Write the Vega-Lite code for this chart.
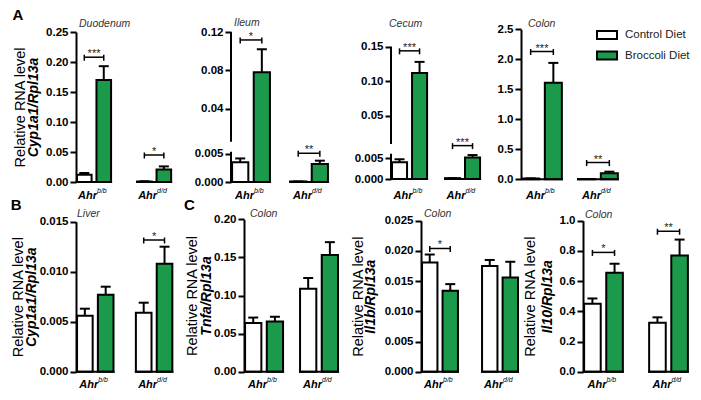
{
"$schema": "https://vega.github.io/schema/vega-lite/v6.json",
"background": "white",
"padding": {"left": 10, "top": 8, "right": 0, "bottom": 0},
"datasets": {
"bars": [
{"p":"duo","g":"b/b","d":"Control Diet","m":0.012,"e":0.015,"s":0.208,"t":"***"},
{"p":"duo","g":"b/b","d":"Broccoli Diet","m":0.17,"e":0.193,"s":0.208,"t":"***"},
{"p":"duo","g":"d/d","d":"Control Diet","m":0.0008,"e":0.0012,"s":0.045,"t":"*"},
{"p":"duo","g":"d/d","d":"Broccoli Diet","m":0.021,"e":0.026,"s":0.045,"t":"*"},
{"p":"ile","g":"b/b","d":"Control Diet","m":0.0035,"e":0.0042,"s":0.1117,"t":"*"},
{"p":"ile","g":"b/b","d":"Broccoli Diet","m":0.078,"e":0.102,"s":0.1117,"t":"*"},
{"p":"ile","g":"d/d","d":"Control Diet","m":0.0001,"e":0.0001,"s":0.00512,"t":"**"},
{"p":"ile","g":"d/d","d":"Broccoli Diet","m":0.0032,"e":0.0038,"s":0.00512,"t":"**"},
{"p":"cec","g":"b/b","d":"Control Diet","m":0.004,"e":0.0047,"s":0.144,"t":"***"},
{"p":"cec","g":"b/b","d":"Broccoli Diet","m":0.112,"e":0.128,"s":0.144,"t":"***"},
{"p":"cec","g":"d/d","d":"Control Diet","m":0.0002,"e":0.0002,"s":0.0085,"t":"***"},
{"p":"cec","g":"d/d","d":"Broccoli Diet","m":0.0051,"e":0.0057,"s":0.0085,"t":"***"},
{"p":"col","g":"b/b","d":"Control Diet","m":0.012,"e":0.015,"s":2.13,"t":"***"},
{"p":"col","g":"b/b","d":"Broccoli Diet","m":1.61,"e":1.94,"s":2.13,"t":"***"},
{"p":"col","g":"d/d","d":"Control Diet","m":0.005,"e":0.005,"s":0.28,"t":"**"},
{"p":"col","g":"d/d","d":"Broccoli Diet","m":0.1,"e":0.127,"s":0.28,"t":"**"},
{"p":"liv","g":"b/b","d":"Control Diet","m":0.0056,"e":0.0063,"s":null,"t":null},
{"p":"liv","g":"b/b","d":"Broccoli Diet","m":0.0077,"e":0.0085,"s":null,"t":null},
{"p":"liv","g":"d/d","d":"Control Diet","m":0.0059,"e":0.0069,"s":0.01317,"t":"*"},
{"p":"liv","g":"d/d","d":"Broccoli Diet","m":0.0108,"e":0.0125,"s":0.01317,"t":"*"},
{"p":"tnf","g":"b/b","d":"Control Diet","m":0.064,"e":0.071,"s":null,"t":null},
{"p":"tnf","g":"b/b","d":"Broccoli Diet","m":0.066,"e":0.072,"s":null,"t":null},
{"p":"tnf","g":"d/d","d":"Control Diet","m":0.109,"e":0.123,"s":null,"t":null},
{"p":"tnf","g":"d/d","d":"Broccoli Diet","m":0.153,"e":0.17,"s":null,"t":null},
{"p":"il1","g":"b/b","d":"Control Diet","m":0.0181,"e":0.0194,"s":0.0204,"t":"*"},
{"p":"il1","g":"b/b","d":"Broccoli Diet","m":0.0134,"e":0.0145,"s":0.0204,"t":"*"},
{"p":"il1","g":"d/d","d":"Control Diet","m":0.0175,"e":0.0185,"s":null,"t":null},
{"p":"il1","g":"d/d","d":"Broccoli Diet","m":0.0156,"e":0.0182,"s":null,"t":null},
{"p":"i10","g":"b/b","d":"Control Diet","m":0.45,"e":0.485,"s":0.79,"t":"*"},
{"p":"i10","g":"b/b","d":"Broccoli Diet","m":0.655,"e":0.715,"s":0.79,"t":"*"},
{"p":"i10","g":"d/d","d":"Control Diet","m":0.325,"e":0.36,"s":0.93,"t":"**"},
{"p":"i10","g":"d/d","d":"Broccoli Diet","m":0.77,"e":0.875,"s":0.93,"t":"**"}
]
},
"spacing": -2,
"resolve": {"scale": {"fill": "independent", "xOffset": "independent"}, "legend": {"fill": "independent"}},
"vconcat": [
{
"bounds": "flush",
"spacing": 0,
"resolve": {"scale": {"fill": "independent", "xOffset": "independent"}, "legend": {"fill": "independent"}},
"hconcat": [
{
"width": 155, "height": 150,
"title": {"text": "A", "offset": -4},
"data": {"name": "bars"},
"transform": [{"filter": "datum.p === 'duo'"}],
"layer": [
{"mark": {"type": "bar", "stroke": "black", "strokeWidth": 2},
 "encoding": {
  "x": {"field": "g", "type": "nominal", "scale": {"paddingInner": 0.4, "paddingOuter": 0.49, "align": 0}, "axis": {"labelExpr": "'Ahr'", "labelAlign": "right", "labelOffset": 3, "labelFontSize": 11, "labelFontStyle": "italic", "labelFontWeight": "bold", "labelPadding": 7, "title": null, "domain": false, "ticks": false, "labelAngle": 0}},
  "xOffset": {"field": "d", "type": "nominal", "sort": ["Control Diet", "Broccoli Diet"], "scale": {"paddingInner": 0.25, "paddingOuter": 0.05}},
  "y": {"field": "m", "type": "quantitative", "stack": null, "scale": {"domain": [0, 0.25], "range": [150, 0], "nice": false, "zero": false}, "axis": {"values": [0, 0.05, 0.1, 0.15, 0.2, 0.25], "format": ".2f", "title": "Relative RNA level", "titlePadding": 18, "labelOverlap": false}},
  "fill": {"field": "d", "type": "nominal", "scale": {"domain": ["Control Diet", "Broccoli Diet"], "range": ["white", "#1a9a4a"]}, "legend": null}}},
{"mark": {"type": "rule", "color": "black", "strokeWidth": 2},
 "encoding": {
  "x": {"field": "g", "type": "nominal", "axis": {"orient": "bottom", "labelAlign": "left", "labelOffset": 3, "labelFontSize": 7, "labelFontStyle": "italic", "labelFontWeight": "normal", "labelPadding": 4.5, "title": null, "domain": false, "ticks": false, "labelAngle": 0}},
  "xOffset": {"field": "d", "type": "nominal", "sort": ["Control Diet", "Broccoli Diet"]},
  "y": {"field": "m", "type": "quantitative", "axis": {"orient": "left", "title": "Cyp1a1/Rpl13a", "titleFontStyle": "italic", "titleFontWeight": "bold", "titleFontSize": 14, "titlePadding": 36, "labels": false, "ticks": false, "domain": false, "minExtent": 0}},
  "y2": {"field": "e"}}},
{"mark": {"type": "tick", "color": "black", "thickness": 2, "size": 10, "opacity": 1},
 "encoding": {"x": {"field": "g", "type": "nominal", "axis": null}, "xOffset": {"field": "d", "type": "nominal", "sort": ["Control Diet", "Broccoli Diet"]}, "y": {"field": "e", "type": "quantitative", "axis": null}}},
{"transform": [{"filter": "datum.d === 'Control Diet'"}],
 "mark": {"type": "bar", "fill": "transparent", "stroke": "black", "strokeWidth": 2},
 "encoding": {"x": {"field": "g", "type": "nominal", "axis": null}, "y": {"datum": 0, "type": "quantitative", "axis": null}, "y2": {"datum": 0}}},
{"transform": [{"filter": "datum.s != null"}],
 "mark": {"type": "line", "color": "black", "strokeWidth": 1.5},
 "encoding": {"x": {"field": "g", "type": "nominal", "axis": null}, "xOffset": {"field": "d", "type": "nominal", "sort": ["Control Diet", "Broccoli Diet"]}, "y": {"field": "s", "type": "quantitative", "axis": null}, "detail": {"field": "g"}}},
{"transform": [{"filter": "datum.s != null"}],
 "mark": {"type": "rule", "color": "black", "strokeWidth": 1.5, "yOffset": -2.5, "y2Offset": 3.5},
 "encoding": {"x": {"field": "g", "type": "nominal", "axis": null}, "xOffset": {"field": "d", "type": "nominal", "sort": ["Control Diet", "Broccoli Diet"]}, "y": {"field": "s", "type": "quantitative", "axis": null}, "y2": {"field": "s"}}},
{"transform": [{"filter": "datum.t && datum.d === 'Broccoli Diet'"}],
 "mark": {"type": "text", "fontSize": 11, "baseline": "alphabetic", "color": "#222"},
 "encoding": {"x": {"field": "g", "type": "nominal", "axis": null}, "y": {"field": "s", "type": "quantitative", "axis": null}, "text": {"field": "t"}}},
{"data": {"values": [{"n": "Duodenum"}]},
 "mark": {"type": "text", "fontSize": 10.5, "fontStyle": "italic", "color": "#333", "align": "left", "baseline": "alphabetic", "dx": 3, "dy": -5},
 "encoding": {"x": {"datum": "b/b", "type": "nominal", "bandPosition": 0, "axis": null}, "y": {"datum": 0.25, "type": "quantitative", "axis": null}, "text": {"field": "n"}}}
],
"resolve": {"axis": {"x": "independent", "y": "independent"}}
},
{
"width": 160, "height": 150,
"data": {"name": "bars"},
"transform": [{"filter": "datum.p === 'ile'"}],
"layer": [
{"mark": {"type": "bar", "stroke": "black", "strokeWidth": 2},
 "encoding": {
  "x": {"field": "g", "type": "nominal", "scale": {"paddingInner": 0.31, "paddingOuter": 0.534, "align": 0}, "axis": {"labelExpr": "'Ahr'", "labelAlign": "right", "labelOffset": 3, "labelFontSize": 11, "labelFontStyle": "italic", "labelFontWeight": "bold", "labelPadding": 7, "title": null, "domain": false, "ticks": false, "labelAngle": 0}},
  "xOffset": {"field": "d", "type": "nominal", "sort": ["Control Diet", "Broccoli Diet"], "scale": {"paddingInner": 0.25, "paddingOuter": 0.05}},
  "y": {"field": "m", "type": "quantitative", "stack": null, "scale": {"domain": [0, 0.0054, 0.0055, 0.12], "range": [150, 119.7, 109.8, 0], "nice": false, "zero": false}, "axis": {"values": [0, 0.005, 0.04, 0.08, 0.12], "labelExpr": "datum.value < 0.01 ? format(datum.value, '.3f') : format(datum.value, '.2f')", "title": null, "domain": false, "labelOverlap": false}},
  "fill": {"field": "d", "type": "nominal", "scale": {"domain": ["Control Diet", "Broccoli Diet"], "range": ["white", "#1a9a4a"]}, "legend": null}}},
{"mark": {"type": "rule", "color": "black", "strokeWidth": 2},
 "encoding": {
  "x": {"field": "g", "type": "nominal", "axis": {"orient": "bottom", "labelAlign": "left", "labelOffset": 3, "labelFontSize": 7, "labelFontStyle": "italic", "labelFontWeight": "normal", "labelPadding": 4.5, "title": null, "domain": false, "ticks": false, "labelAngle": 0}},
  "xOffset": {"field": "d", "type": "nominal", "sort": ["Control Diet", "Broccoli Diet"]},
  "y": {"field": "m", "type": "quantitative", "axis": null},
  "y2": {"field": "e"}}},
{"mark": {"type": "tick", "color": "black", "thickness": 2, "size": 10, "opacity": 1},
 "encoding": {"x": {"field": "g", "type": "nominal", "axis": null}, "xOffset": {"field": "d", "type": "nominal", "sort": ["Control Diet", "Broccoli Diet"]}, "y": {"field": "e", "type": "quantitative", "axis": null}}},
{"transform": [{"filter": "datum.d === 'Control Diet'"}],
 "mark": {"type": "bar", "fill": "transparent", "stroke": "black", "strokeWidth": 2},
 "encoding": {"x": {"field": "g", "type": "nominal", "axis": null}, "y": {"datum": 0, "type": "quantitative", "axis": null}, "y2": {"datum": 0}}},
{"transform": [{"filter": "datum.s != null"}],
 "mark": {"type": "line", "color": "black", "strokeWidth": 1.5},
 "encoding": {"x": {"field": "g", "type": "nominal", "axis": null}, "xOffset": {"field": "d", "type": "nominal", "sort": ["Control Diet", "Broccoli Diet"]}, "y": {"field": "s", "type": "quantitative", "axis": null}, "detail": {"field": "g"}}},
{"transform": [{"filter": "datum.s != null"}],
 "mark": {"type": "rule", "color": "black", "strokeWidth": 1.5, "yOffset": -2.5, "y2Offset": 3.5},
 "encoding": {"x": {"field": "g", "type": "nominal", "axis": null}, "xOffset": {"field": "d", "type": "nominal", "sort": ["Control Diet", "Broccoli Diet"]}, "y": {"field": "s", "type": "quantitative", "axis": null}, "y2": {"field": "s"}}},
{"transform": [{"filter": "datum.t && datum.d === 'Broccoli Diet'"}],
 "mark": {"type": "text", "fontSize": 11, "baseline": "alphabetic", "color": "#222"},
 "encoding": {"x": {"field": "g", "type": "nominal", "axis": null}, "y": {"field": "s", "type": "quantitative", "axis": null}, "text": {"field": "t"}}},
{"data": {"values": [{"lo": 0, "hi": 0.0054}, {"lo": 0.0055, "hi": 0.12}]},
 "mark": {"type": "rule", "color": "black", "strokeWidth": 2},
 "encoding": {"x": {"datum": "b/b", "type": "nominal", "bandPosition": 0, "axis": null}, "y": {"field": "lo", "type": "quantitative", "axis": null}, "y2": {"field": "hi"}}},
{"data": {"values": [{"n": "Ileum"}]},
 "mark": {"type": "text", "fontSize": 10.5, "fontStyle": "italic", "color": "#333", "align": "left", "baseline": "alphabetic", "dx": 3, "dy": -6},
 "encoding": {"x": {"datum": "b/b", "type": "nominal", "bandPosition": 0, "axis": null}, "y": {"datum": 0.12, "type": "quantitative", "axis": null}, "text": {"field": "n"}}}
],
"resolve": {"axis": {"x": "independent", "y": "independent"}}
},
{
"width": 130, "height": 150,
"data": {"name": "bars"},
"transform": [{"filter": "datum.p === 'cec'"}],
"layer": [
{"mark": {"type": "bar", "stroke": "black", "strokeWidth": 2},
 "encoding": {
  "x": {"field": "g", "type": "nominal", "scale": {"paddingInner": 0.3, "paddingOuter": 0.377, "align": 0}, "axis": {"labelExpr": "'Ahr'", "labelAlign": "right", "labelOffset": 3, "labelFontSize": 11, "labelFontStyle": "italic", "labelFontWeight": "bold", "labelPadding": 7, "title": null, "domain": false, "ticks": false, "labelAngle": 0}},
  "xOffset": {"field": "d", "type": "nominal", "sort": ["Control Diet", "Broccoli Diet"], "scale": {"paddingInner": 0.25, "paddingOuter": 0.05}},
  "y": {"field": "m", "type": "quantitative", "stack": null, "scale": {"domain": [0, 0.006, 0.009, 0.1713], "range": [147, 121.8, 112, 0], "nice": false, "zero": false}, "axis": {"values": [0, 0.005, 0.05, 0.1, 0.15], "labelExpr": "datum.value < 0.01 ? format(datum.value, '.3f') : format(datum.value, '.2f')", "title": null, "domain": false, "labelOverlap": false}},
  "fill": {"field": "d", "type": "nominal", "scale": {"domain": ["Control Diet", "Broccoli Diet"], "range": ["white", "#1a9a4a"]}, "legend": null}}},
{"mark": {"type": "rule", "color": "black", "strokeWidth": 2},
 "encoding": {
  "x": {"field": "g", "type": "nominal", "axis": {"orient": "bottom", "labelAlign": "left", "labelOffset": 3, "labelFontSize": 7, "labelFontStyle": "italic", "labelFontWeight": "normal", "labelPadding": 4.5, "title": null, "domain": false, "ticks": false, "labelAngle": 0}},
  "xOffset": {"field": "d", "type": "nominal", "sort": ["Control Diet", "Broccoli Diet"]},
  "y": {"field": "m", "type": "quantitative", "axis": null},
  "y2": {"field": "e"}}},
{"mark": {"type": "tick", "color": "black", "thickness": 2, "size": 10, "opacity": 1},
 "encoding": {"x": {"field": "g", "type": "nominal", "axis": null}, "xOffset": {"field": "d", "type": "nominal", "sort": ["Control Diet", "Broccoli Diet"]}, "y": {"field": "e", "type": "quantitative", "axis": null}}},
{"transform": [{"filter": "datum.d === 'Control Diet'"}],
 "mark": {"type": "bar", "fill": "transparent", "stroke": "black", "strokeWidth": 2},
 "encoding": {"x": {"field": "g", "type": "nominal", "axis": null}, "y": {"datum": 0, "type": "quantitative", "axis": null}, "y2": {"datum": 0}}},
{"transform": [{"filter": "datum.s != null"}],
 "mark": {"type": "line", "color": "black", "strokeWidth": 1.5},
 "encoding": {"x": {"field": "g", "type": "nominal", "axis": null}, "xOffset": {"field": "d", "type": "nominal", "sort": ["Control Diet", "Broccoli Diet"]}, "y": {"field": "s", "type": "quantitative", "axis": null}, "detail": {"field": "g"}}},
{"transform": [{"filter": "datum.s != null"}],
 "mark": {"type": "rule", "color": "black", "strokeWidth": 1.5, "yOffset": -2.5, "y2Offset": 3.5},
 "encoding": {"x": {"field": "g", "type": "nominal", "axis": null}, "xOffset": {"field": "d", "type": "nominal", "sort": ["Control Diet", "Broccoli Diet"]}, "y": {"field": "s", "type": "quantitative", "axis": null}, "y2": {"field": "s"}}},
{"transform": [{"filter": "datum.t && datum.d === 'Broccoli Diet'"}],
 "mark": {"type": "text", "fontSize": 11, "baseline": "alphabetic", "color": "#222"},
 "encoding": {"x": {"field": "g", "type": "nominal", "axis": null}, "y": {"field": "s", "type": "quantitative", "axis": null}, "text": {"field": "t"}}},
{"data": {"values": [{"lo": 0, "hi": 0.006}, {"lo": 0.009, "hi": 0.15}]},
 "mark": {"type": "rule", "color": "black", "strokeWidth": 2},
 "encoding": {"x": {"datum": "b/b", "type": "nominal", "bandPosition": 0, "axis": null}, "y": {"field": "lo", "type": "quantitative", "axis": null}, "y2": {"field": "hi"}}},
{"data": {"values": [{"n": "Cecum"}]},
 "mark": {"type": "text", "fontSize": 10.5, "fontStyle": "italic", "color": "#333", "align": "left", "baseline": "alphabetic", "dx": -2, "dy": -5},
 "encoding": {"x": {"datum": "b/b", "type": "nominal", "bandPosition": 0, "axis": null}, "y": {"datum": 0.1713, "type": "quantitative", "axis": null}, "text": {"field": "n"}}}
],
"resolve": {"axis": {"x": "independent", "y": "independent"}}
},
{
"width": 100, "height": 150,
"data": {"name": "bars"},
"transform": [{"filter": "datum.p === 'col'"}],
"layer": [
{"mark": {"type": "bar", "stroke": "black", "strokeWidth": 2},
 "encoding": {
  "x": {"field": "g", "type": "nominal", "scale": {"paddingInner": 0.25, "paddingOuter": 0.018, "align": 0}, "axis": {"labelExpr": "'Ahr'", "labelAlign": "right", "labelOffset": 3, "labelFontSize": 11, "labelFontStyle": "italic", "labelFontWeight": "bold", "labelPadding": 7, "title": null, "domain": false, "ticks": false, "labelAngle": 0}},
  "xOffset": {"field": "d", "type": "nominal", "sort": ["Control Diet", "Broccoli Diet"], "scale": {"paddingInner": 0.25, "paddingOuter": 0.05}},
  "y": {"field": "m", "type": "quantitative", "stack": null, "scale": {"domain": [0, 2.5], "range": [147.3, -2.7], "nice": false, "zero": false}, "axis": {"values": [0, 0.5, 1, 1.5, 2, 2.5], "format": ".1f", "title": null, "labelOverlap": false}},
  "fill": {"field": "d", "type": "nominal", "scale": {"domain": ["Control Diet", "Broccoli Diet"], "range": ["white", "#1a9a4a"]}, "legend": {"orient": "none", "legendX": 80, "legendY": -3, "title": null, "padding": 0, "symbolType": "M-2,-0.8H2V0.8H-2Z", "symbolSize": 100, "symbolStrokeColor": "black", "symbolStrokeWidth": 2, "labelFontSize": 11.5, "labelFont": "Liberation Sans", "labelColor": "#222", "labelOffset": 12, "rowPadding": 4.5}}}},
{"mark": {"type": "rule", "color": "black", "strokeWidth": 2},
 "encoding": {
  "x": {"field": "g", "type": "nominal", "axis": {"orient": "bottom", "labelAlign": "left", "labelOffset": 3, "labelFontSize": 7, "labelFontStyle": "italic", "labelFontWeight": "normal", "labelPadding": 4.5, "title": null, "domain": false, "ticks": false, "labelAngle": 0}},
  "xOffset": {"field": "d", "type": "nominal", "sort": ["Control Diet", "Broccoli Diet"]},
  "y": {"field": "m", "type": "quantitative", "axis": null},
  "y2": {"field": "e"}}},
{"mark": {"type": "tick", "color": "black", "thickness": 2, "size": 10, "opacity": 1},
 "encoding": {"x": {"field": "g", "type": "nominal", "axis": null}, "xOffset": {"field": "d", "type": "nominal", "sort": ["Control Diet", "Broccoli Diet"]}, "y": {"field": "e", "type": "quantitative", "axis": null}}},
{"transform": [{"filter": "datum.d === 'Control Diet'"}],
 "mark": {"type": "bar", "fill": "transparent", "stroke": "black", "strokeWidth": 2},
 "encoding": {"x": {"field": "g", "type": "nominal", "axis": null}, "y": {"datum": 0, "type": "quantitative", "axis": null}, "y2": {"datum": 0}}},
{"transform": [{"filter": "datum.s != null"}],
 "mark": {"type": "line", "color": "black", "strokeWidth": 1.5},
 "encoding": {"x": {"field": "g", "type": "nominal", "axis": null}, "xOffset": {"field": "d", "type": "nominal", "sort": ["Control Diet", "Broccoli Diet"]}, "y": {"field": "s", "type": "quantitative", "axis": null}, "detail": {"field": "g"}}},
{"transform": [{"filter": "datum.s != null"}],
 "mark": {"type": "rule", "color": "black", "strokeWidth": 1.5, "yOffset": -2.5, "y2Offset": 3.5},
 "encoding": {"x": {"field": "g", "type": "nominal", "axis": null}, "xOffset": {"field": "d", "type": "nominal", "sort": ["Control Diet", "Broccoli Diet"]}, "y": {"field": "s", "type": "quantitative", "axis": null}, "y2": {"field": "s"}}},
{"transform": [{"filter": "datum.t && datum.d === 'Broccoli Diet'"}],
 "mark": {"type": "text", "fontSize": 11, "baseline": "alphabetic", "color": "#222"},
 "encoding": {"x": {"field": "g", "type": "nominal", "axis": null}, "y": {"field": "s", "type": "quantitative", "axis": null}, "text": {"field": "t"}}},
{"data": {"values": [{"n": "Colon"}]},
 "mark": {"type": "text", "fontSize": 10.5, "fontStyle": "italic", "color": "#333", "align": "left", "baseline": "alphabetic", "dx": 7, "dy": -2.3},
 "encoding": {"x": {"datum": "b/b", "type": "nominal", "bandPosition": 0, "axis": null}, "y": {"datum": 2.5, "type": "quantitative", "axis": null}, "text": {"field": "n"}}}
],
"resolve": {"axis": {"x": "independent", "y": "independent"}}
}
]
},
{
"bounds": "flush",
"spacing": 0,
"resolve": {"scale": {"fill": "independent", "xOffset": "independent"}, "legend": {"fill": "independent"}},
"hconcat": [
{
"width": 168, "height": 150,
"title": {"text": "B", "offset": -4},
"data": {"name": "bars"},
"transform": [{"filter": "datum.p === 'liv'"}],
"layer": [
{"mark": {"type": "bar", "stroke": "black", "strokeWidth": 2},
 "encoding": {
  "x": {"field": "g", "type": "nominal", "scale": {"paddingInner": 0.345, "paddingOuter": 0.6, "align": 0}, "axis": {"labelExpr": "'Ahr'", "labelAlign": "right", "labelOffset": 3, "labelFontSize": 11, "labelFontStyle": "italic", "labelFontWeight": "bold", "labelPadding": 7, "title": null, "domain": false, "ticks": false, "labelAngle": 0}},
  "xOffset": {"field": "d", "type": "nominal", "sort": ["Control Diet", "Broccoli Diet"], "scale": {"paddingInner": 0.25, "paddingOuter": 0.05}},
  "y": {"field": "m", "type": "quantitative", "stack": null, "scale": {"domain": [0, 0.015], "range": [150.7, 0.7], "nice": false, "zero": false}, "axis": {"values": [0, 0.005, 0.01, 0.015], "format": ".3f", "title": "Relative RNA level", "titlePadding": 13.5, "labelOverlap": false}},
  "fill": {"field": "d", "type": "nominal", "scale": {"domain": ["Control Diet", "Broccoli Diet"], "range": ["white", "#1a9a4a"]}, "legend": null}}},
{"mark": {"type": "rule", "color": "black", "strokeWidth": 2},
 "encoding": {
  "x": {"field": "g", "type": "nominal", "axis": {"orient": "bottom", "labelAlign": "left", "labelOffset": 3, "labelFontSize": 7, "labelFontStyle": "italic", "labelFontWeight": "normal", "labelPadding": 4.5, "title": null, "domain": false, "ticks": false, "labelAngle": 0}},
  "xOffset": {"field": "d", "type": "nominal", "sort": ["Control Diet", "Broccoli Diet"]},
  "y": {"field": "m", "type": "quantitative", "axis": {"orient": "left", "title": "Cyp1a1/Rpl13a", "titleFontStyle": "italic", "titleFontWeight": "bold", "titleFontSize": 14, "titlePadding": 37.5, "labels": false, "ticks": false, "domain": false, "minExtent": 0}},
  "y2": {"field": "e"}}},
{"mark": {"type": "tick", "color": "black", "thickness": 2, "size": 10, "opacity": 1},
 "encoding": {"x": {"field": "g", "type": "nominal", "axis": null}, "xOffset": {"field": "d", "type": "nominal", "sort": ["Control Diet", "Broccoli Diet"]}, "y": {"field": "e", "type": "quantitative", "axis": null}}},
{"transform": [{"filter": "datum.d === 'Control Diet'"}],
 "mark": {"type": "bar", "fill": "transparent", "stroke": "black", "strokeWidth": 2},
 "encoding": {"x": {"field": "g", "type": "nominal", "axis": null}, "y": {"datum": 0, "type": "quantitative", "axis": null}, "y2": {"datum": 0}}},
{"transform": [{"filter": "datum.s != null"}],
 "mark": {"type": "line", "color": "black", "strokeWidth": 1.5},
 "encoding": {"x": {"field": "g", "type": "nominal", "axis": null}, "xOffset": {"field": "d", "type": "nominal", "sort": ["Control Diet", "Broccoli Diet"]}, "y": {"field": "s", "type": "quantitative", "axis": null}, "detail": {"field": "g"}}},
{"transform": [{"filter": "datum.s != null"}],
 "mark": {"type": "rule", "color": "black", "strokeWidth": 1.5, "yOffset": -2.5, "y2Offset": 3.5},
 "encoding": {"x": {"field": "g", "type": "nominal", "axis": null}, "xOffset": {"field": "d", "type": "nominal", "sort": ["Control Diet", "Broccoli Diet"]}, "y": {"field": "s", "type": "quantitative", "axis": null}, "y2": {"field": "s"}}},
{"transform": [{"filter": "datum.t && datum.d === 'Broccoli Diet'"}],
 "mark": {"type": "text", "fontSize": 11, "baseline": "alphabetic", "color": "#222"},
 "encoding": {"x": {"field": "g", "type": "nominal", "axis": null}, "y": {"field": "s", "type": "quantitative", "axis": null}, "text": {"field": "t"}}},
{"data": {"values": [{"n": "Liver"}]},
 "mark": {"type": "text", "fontSize": 10.5, "fontStyle": "italic", "color": "#333", "align": "left", "baseline": "alphabetic", "dx": 1, "dy": -4.7},
 "encoding": {"x": {"datum": "b/b", "type": "nominal", "bandPosition": 0, "axis": null}, "y": {"datum": 0.015, "type": "quantitative", "axis": null}, "text": {"field": "n"}}}
],
"resolve": {"axis": {"x": "independent", "y": "independent"}}
},
{
"width": 177, "height": 150,
"title": {"text": "C", "offset": -4},
"data": {"name": "bars"},
"transform": [{"filter": "datum.p === 'tnf'"}],
"layer": [
{"mark": {"type": "bar", "stroke": "black", "strokeWidth": 2},
 "encoding": {
  "x": {"field": "g", "type": "nominal", "scale": {"paddingInner": 0.27, "paddingOuter": 0.745, "align": 0}, "axis": {"labelExpr": "'Ahr'", "labelAlign": "right", "labelOffset": 3, "labelFontSize": 11, "labelFontStyle": "italic", "labelFontWeight": "bold", "labelPadding": 7, "title": null, "domain": false, "ticks": false, "labelAngle": 0}},
  "xOffset": {"field": "d", "type": "nominal", "sort": ["Control Diet", "Broccoli Diet"], "scale": {"paddingInner": 0.25, "paddingOuter": 0.05}},
  "y": {"field": "m", "type": "quantitative", "stack": null, "scale": {"domain": [0, 0.2], "range": [150.7, -1.7], "nice": false, "zero": false}, "axis": {"values": [0, 0.05, 0.1, 0.15, 0.2], "format": ".2f", "title": "Relative RNA level", "titlePadding": 14.5, "labelOverlap": false}},
  "fill": {"field": "d", "type": "nominal", "scale": {"domain": ["Control Diet", "Broccoli Diet"], "range": ["white", "#1a9a4a"]}, "legend": null}}},
{"mark": {"type": "rule", "color": "black", "strokeWidth": 2},
 "encoding": {
  "x": {"field": "g", "type": "nominal", "axis": {"orient": "bottom", "labelAlign": "left", "labelOffset": 3, "labelFontSize": 7, "labelFontStyle": "italic", "labelFontWeight": "normal", "labelPadding": 4.5, "title": null, "domain": false, "ticks": false, "labelAngle": 0}},
  "xOffset": {"field": "d", "type": "nominal", "sort": ["Control Diet", "Broccoli Diet"]},
  "y": {"field": "m", "type": "quantitative", "axis": {"orient": "left", "title": "Tnfa/Rpl13a", "titleFontStyle": "italic", "titleFontWeight": "bold", "titleFontSize": 14, "titlePadding": 31, "labels": false, "ticks": false, "domain": false, "minExtent": 0}},
  "y2": {"field": "e"}}},
{"mark": {"type": "tick", "color": "black", "thickness": 2, "size": 10, "opacity": 1},
 "encoding": {"x": {"field": "g", "type": "nominal", "axis": null}, "xOffset": {"field": "d", "type": "nominal", "sort": ["Control Diet", "Broccoli Diet"]}, "y": {"field": "e", "type": "quantitative", "axis": null}}},
{"transform": [{"filter": "datum.d === 'Control Diet'"}],
 "mark": {"type": "bar", "fill": "transparent", "stroke": "black", "strokeWidth": 2},
 "encoding": {"x": {"field": "g", "type": "nominal", "axis": null}, "y": {"datum": 0, "type": "quantitative", "axis": null}, "y2": {"datum": 0}}},
{"data": {"values": [{"n": "Colon"}]},
 "mark": {"type": "text", "fontSize": 10.5, "fontStyle": "italic", "color": "#333", "align": "left", "baseline": "alphabetic", "dx": 6, "dy": -2.3},
 "encoding": {"x": {"datum": "b/b", "type": "nominal", "bandPosition": 0, "axis": null}, "y": {"datum": 0.2, "type": "quantitative", "axis": null}, "text": {"field": "n"}}}
],
"resolve": {"axis": {"x": "independent", "y": "independent"}}
},
{
"width": 162, "height": 150,
"data": {"name": "bars"},
"transform": [{"filter": "datum.p === 'il1'"}],
"layer": [
{"mark": {"type": "bar", "stroke": "black", "strokeWidth": 2},
 "encoding": {
  "x": {"field": "g", "type": "nominal", "scale": {"paddingInner": 0.367, "paddingOuter": 0.533, "align": 0}, "axis": {"labelExpr": "'Ahr'", "labelAlign": "right", "labelOffset": 3, "labelFontSize": 11, "labelFontStyle": "italic", "labelFontWeight": "bold", "labelPadding": 7, "title": null, "domain": false, "ticks": false, "labelAngle": 0}},
  "xOffset": {"field": "d", "type": "nominal", "sort": ["Control Diet", "Broccoli Diet"], "scale": {"paddingInner": 0.25, "paddingOuter": 0.05}},
  "y": {"field": "m", "type": "quantitative", "stack": null, "scale": {"domain": [0, 0.025], "range": [150.7, -0.3], "nice": false, "zero": false}, "axis": {"values": [0, 0.005, 0.01, 0.015, 0.02, 0.025], "format": ".3f", "title": "Relative RNA level", "titlePadding": 19, "labelOverlap": false}},
  "fill": {"field": "d", "type": "nominal", "scale": {"domain": ["Control Diet", "Broccoli Diet"], "range": ["white", "#1a9a4a"]}, "legend": null}}},
{"mark": {"type": "rule", "color": "black", "strokeWidth": 2},
 "encoding": {
  "x": {"field": "g", "type": "nominal", "axis": {"orient": "bottom", "labelAlign": "left", "labelOffset": 3, "labelFontSize": 7, "labelFontStyle": "italic", "labelFontWeight": "normal", "labelPadding": 4.5, "title": null, "domain": false, "ticks": false, "labelAngle": 0}},
  "xOffset": {"field": "d", "type": "nominal", "sort": ["Control Diet", "Broccoli Diet"]},
  "y": {"field": "m", "type": "quantitative", "axis": {"orient": "left", "title": "Il1b/Rpl13a", "titleFontStyle": "italic", "titleFontWeight": "bold", "titleFontSize": 14, "titlePadding": 44, "labels": false, "ticks": false, "domain": false, "minExtent": 0}},
  "y2": {"field": "e"}}},
{"mark": {"type": "tick", "color": "black", "thickness": 2, "size": 10, "opacity": 1},
 "encoding": {"x": {"field": "g", "type": "nominal", "axis": null}, "xOffset": {"field": "d", "type": "nominal", "sort": ["Control Diet", "Broccoli Diet"]}, "y": {"field": "e", "type": "quantitative", "axis": null}}},
{"transform": [{"filter": "datum.d === 'Control Diet'"}],
 "mark": {"type": "bar", "fill": "transparent", "stroke": "black", "strokeWidth": 2},
 "encoding": {"x": {"field": "g", "type": "nominal", "axis": null}, "y": {"datum": 0, "type": "quantitative", "axis": null}, "y2": {"datum": 0}}},
{"transform": [{"filter": "datum.s != null"}],
 "mark": {"type": "line", "color": "black", "strokeWidth": 1.5},
 "encoding": {"x": {"field": "g", "type": "nominal", "axis": null}, "xOffset": {"field": "d", "type": "nominal", "sort": ["Control Diet", "Broccoli Diet"]}, "y": {"field": "s", "type": "quantitative", "axis": null}, "detail": {"field": "g"}}},
{"transform": [{"filter": "datum.s != null"}],
 "mark": {"type": "rule", "color": "black", "strokeWidth": 1.5, "yOffset": -2.5, "y2Offset": 3.5},
 "encoding": {"x": {"field": "g", "type": "nominal", "axis": null}, "xOffset": {"field": "d", "type": "nominal", "sort": ["Control Diet", "Broccoli Diet"]}, "y": {"field": "s", "type": "quantitative", "axis": null}, "y2": {"field": "s"}}},
{"transform": [{"filter": "datum.t && datum.d === 'Broccoli Diet'"}],
 "mark": {"type": "text", "fontSize": 11, "baseline": "alphabetic", "color": "#222"},
 "encoding": {"x": {"field": "g", "type": "nominal", "axis": null}, "y": {"field": "s", "type": "quantitative", "axis": null}, "text": {"field": "t"}}},
{"data": {"values": [{"n": "Colon"}]},
 "mark": {"type": "text", "fontSize": 10.5, "fontStyle": "italic", "color": "#333", "align": "left", "baseline": "alphabetic", "dx": 3, "dy": -3.4},
 "encoding": {"x": {"datum": "b/b", "type": "nominal", "bandPosition": 0, "axis": null}, "y": {"datum": 0.025, "type": "quantitative", "axis": null}, "text": {"field": "n"}}}
],
"resolve": {"axis": {"x": "independent", "y": "independent"}}
},
{
"width": 106, "height": 150,
"data": {"name": "bars"},
"transform": [{"filter": "datum.p === 'i10'"}],
"layer": [
{"mark": {"type": "bar", "stroke": "black", "strokeWidth": 2},
 "encoding": {
  "x": {"field": "g", "type": "nominal", "scale": {"paddingInner": 0.37, "paddingOuter": 0, "align": 0}, "axis": {"labelExpr": "'Ahr'", "labelAlign": "right", "labelOffset": 3, "labelFontSize": 11, "labelFontStyle": "italic", "labelFontWeight": "bold", "labelPadding": 7, "title": null, "domain": false, "ticks": false, "labelAngle": 0}},
  "xOffset": {"field": "d", "type": "nominal", "sort": ["Control Diet", "Broccoli Diet"], "scale": {"paddingInner": 0.25, "paddingOuter": 0.05}},
  "y": {"field": "m", "type": "quantitative", "stack": null, "scale": {"domain": [0, 1], "range": [150.7, -0.3], "nice": false, "zero": false}, "axis": {"values": [0, 0.2, 0.4, 0.6, 0.8, 1], "format": ".1f", "title": "Relative RNA level", "titlePadding": 22, "labelOverlap": false}},
  "fill": {"field": "d", "type": "nominal", "scale": {"domain": ["Control Diet", "Broccoli Diet"], "range": ["white", "#1a9a4a"]}, "legend": null}}},
{"mark": {"type": "rule", "color": "black", "strokeWidth": 2},
 "encoding": {
  "x": {"field": "g", "type": "nominal", "axis": {"orient": "bottom", "labelAlign": "left", "labelOffset": 3, "labelFontSize": 7, "labelFontStyle": "italic", "labelFontWeight": "normal", "labelPadding": 4.5, "title": null, "domain": false, "ticks": false, "labelAngle": 0}},
  "xOffset": {"field": "d", "type": "nominal", "sort": ["Control Diet", "Broccoli Diet"]},
  "y": {"field": "m", "type": "quantitative", "axis": {"orient": "left", "title": "Il10/Rpl13a", "titleFontStyle": "italic", "titleFontWeight": "bold", "titleFontSize": 14, "titlePadding": 29, "labels": false, "ticks": false, "domain": false, "minExtent": 0}},
  "y2": {"field": "e"}}},
{"mark": {"type": "tick", "color": "black", "thickness": 2, "size": 10, "opacity": 1},
 "encoding": {"x": {"field": "g", "type": "nominal", "axis": null}, "xOffset": {"field": "d", "type": "nominal", "sort": ["Control Diet", "Broccoli Diet"]}, "y": {"field": "e", "type": "quantitative", "axis": null}}},
{"transform": [{"filter": "datum.d === 'Control Diet'"}],
 "mark": {"type": "bar", "fill": "transparent", "stroke": "black", "strokeWidth": 2},
 "encoding": {"x": {"field": "g", "type": "nominal", "axis": null}, "y": {"datum": 0, "type": "quantitative", "axis": null}, "y2": {"datum": 0}}},
{"transform": [{"filter": "datum.s != null"}],
 "mark": {"type": "line", "color": "black", "strokeWidth": 1.5},
 "encoding": {"x": {"field": "g", "type": "nominal", "axis": null}, "xOffset": {"field": "d", "type": "nominal", "sort": ["Control Diet", "Broccoli Diet"]}, "y": {"field": "s", "type": "quantitative", "axis": null}, "detail": {"field": "g"}}},
{"transform": [{"filter": "datum.s != null"}],
 "mark": {"type": "rule", "color": "black", "strokeWidth": 1.5, "yOffset": -2.5, "y2Offset": 3.5},
 "encoding": {"x": {"field": "g", "type": "nominal", "axis": null}, "xOffset": {"field": "d", "type": "nominal", "sort": ["Control Diet", "Broccoli Diet"]}, "y": {"field": "s", "type": "quantitative", "axis": null}, "y2": {"field": "s"}}},
{"transform": [{"filter": "datum.t && datum.d === 'Broccoli Diet'"}],
 "mark": {"type": "text", "fontSize": 11, "baseline": "alphabetic", "color": "#222"},
 "encoding": {"x": {"field": "g", "type": "nominal", "axis": null}, "y": {"field": "s", "type": "quantitative", "axis": null}, "text": {"field": "t"}}},
{"data": {"values": [{"n": "Colon"}]},
 "mark": {"type": "text", "fontSize": 10.5, "fontStyle": "italic", "color": "#333", "align": "left", "baseline": "alphabetic", "dx": 2, "dy": -2.7},
 "encoding": {"x": {"datum": "b/b", "type": "nominal", "bandPosition": 0, "axis": null}, "y": {"datum": 1, "type": "quantitative", "axis": null}, "text": {"field": "n"}}}
],
"resolve": {"axis": {"x": "independent", "y": "independent"}}
}
]
}
],
"config": {
"font": "Liberation Sans",
"view": {"stroke": null},
"axis": {"grid": false, "domainColor": "black", "domainWidth": 2, "tickColor": "black", "tickWidth": 2, "labelColor": "black", "labelFont": "Liberation Sans", "titleFont": "Liberation Sans", "titleColor": "black"},
"axisY": {"tickSize": 6, "labelPadding": 2, "labelFontSize": 11.5, "labelFontWeight": "bold", "titleFontSize": 14.5, "titleFontWeight": "normal"},
"axisX": {"tickSize": 0},
"title": {"anchor": "start", "frame": "bounds", "fontSize": 15, "fontWeight": "bold", "font": "Liberation Sans", "color": "black"}
}
}
